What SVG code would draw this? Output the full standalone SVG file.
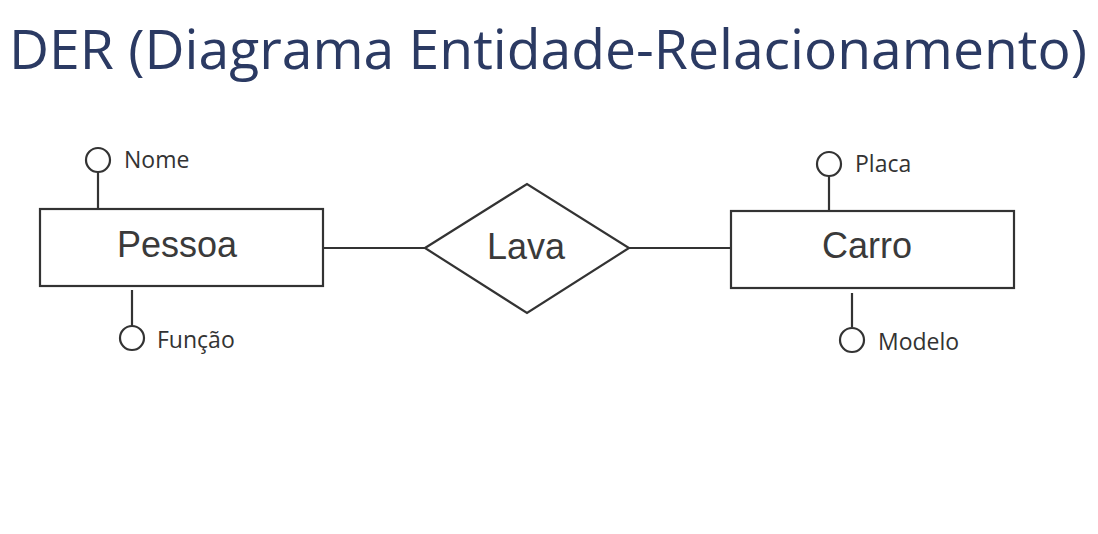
<svg xmlns="http://www.w3.org/2000/svg" width="1098" height="534" viewBox="0 0 1098 534">
<style>
.shape{fill:#fff;stroke:#333;stroke-width:2.2}
.ln{stroke:#333;stroke-width:2.2;fill:none}
.big{font-family:"Liberation Sans",Arial,sans-serif;font-size:36px;fill:#3a3a3a;text-anchor:middle}
.attr{font-family:"Open Sans","Noto Sans",sans-serif;font-size:23px;fill:#333}
.title{font-family:"Open Sans","Noto Sans",sans-serif;font-size:55px;fill:#2b3a63}
</style>
<rect width="1098" height="534" fill="#fff"/>
<text class="title" x="9" y="69" textLength="1078" lengthAdjust="spacingAndGlyphs">DER (Diagrama Entidade-Relacionamento)</text>
<g id="connectors">
<line class="ln" x1="323" y1="248" x2="425" y2="248"/>
<line class="ln" x1="629" y1="248" x2="731" y2="248"/>
<line class="ln" x1="98" y1="172" x2="98" y2="209"/>
<line class="ln" x1="132" y1="290" x2="132" y2="326"/>
<line class="ln" x1="829" y1="176" x2="829" y2="211"/>
<line class="ln" x1="852" y1="293" x2="852" y2="327"/>
</g>
<g id="pessoa">
<rect class="shape" x="40" y="209" width="283" height="77"/>
<text class="big" x="177" y="257">Pessoa</text>
</g>
<g id="lava">
<polygon class="shape" points="425,248 527,184 629,248 527,313"/>
<text class="big" x="526" y="259">Lava</text>
</g>
<g id="carro">
<rect class="shape" x="731" y="211" width="283" height="77"/>
<text class="big" x="867" y="258">Carro</text>
</g>
<g id="attr-nome">
<circle class="shape" cx="98" cy="160" r="12"/>
<text class="attr" x="124" y="168">Nome</text>
</g>
<g id="attr-funcao">
<circle class="shape" cx="132" cy="338" r="12"/>
<text class="attr" x="157" y="348">Função</text>
</g>
<g id="attr-placa">
<circle class="shape" cx="829" cy="164" r="12"/>
<text class="attr" x="855" y="172">Placa</text>
</g>
<g id="attr-modelo">
<circle class="shape" cx="852" cy="340" r="12"/>
<text class="attr" x="878" y="350">Modelo</text>
</g>
</svg>
